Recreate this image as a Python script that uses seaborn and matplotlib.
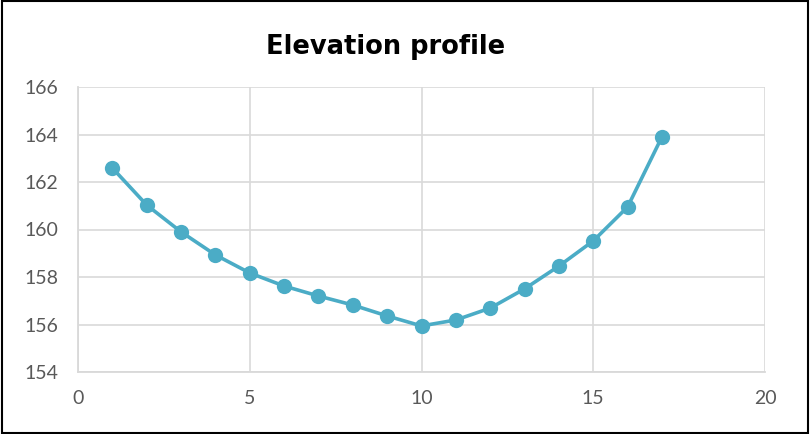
import matplotlib
matplotlib.use("Agg")
import matplotlib.pyplot as plt
from matplotlib.patches import Rectangle
import seaborn as sns
import pandas as pd

# Distance along the profile and measured elevation
distance = [1, 2, 3, 4, 5, 6, 7, 8, 9, 10, 11, 12, 13, 14, 15, 16, 17]
elevation = [162.59, 161.03, 159.90, 158.93, 158.17, 157.62, 157.20, 156.82,
             156.36, 155.94, 156.19, 156.69, 157.50, 158.46, 159.52, 160.95, 163.90]
x_ticks = [0, 5, 10, 15, 20]
y_ticks = [154, 156, 158, 160, 162, 164, 166]
title = "Elevation profile"

df = pd.DataFrame({"distance": distance, "elevation": elevation})

sns.set_style("white")
plt.rcParams["font.family"] = ["Lato", "DejaVu Sans"]

fig = plt.figure(figsize=(8.1, 4.34), dpi=100)
ax = fig.add_axes([78 / 810, 62 / 434, (765 - 78) / 810, (372 - 87) / 434])

line_color = "#4BACC6"
sns.lineplot(data=df, x="distance", y="elevation", ax=ax, color=line_color,
             linewidth=2.6, marker="o", markersize=11, markeredgewidth=0,
             markerfacecolor=line_color, zorder=3)

ax.set_xlim(0, 20)
ax.set_ylim(154, 166)
ax.set_xticks(x_ticks)
ax.set_yticks(y_ticks)
ax.set_xlabel("")
ax.set_ylabel("")

grid_color = "#D9D9D9"
ax.grid(True, color=grid_color, linewidth=1.2)
for side in ["top", "right"]:
    ax.spines[side].set_visible(False)
for side in ["left", "bottom"]:
    ax.spines[side].set_color(grid_color)
    ax.spines[side].set_linewidth(1.3)

ax.tick_params(axis="both", length=0, labelsize=14, labelcolor="#595959")
ax.tick_params(axis="x", pad=13)
ax.tick_params(axis="y", pad=14)

fig.text(386 / 810, 1 - 47 / 434, title, ha="center", va="center",
         fontsize=18.5, fontweight="bold", family=["DejaVu Sans"], color="black")

# Chart frame
fig.patches.append(Rectangle((0.002, 0.003), 0.996, 0.994, transform=fig.transFigure,
                             fill=False, edgecolor="black", linewidth=1.5))

fig.savefig("out.png", dpi=100)
